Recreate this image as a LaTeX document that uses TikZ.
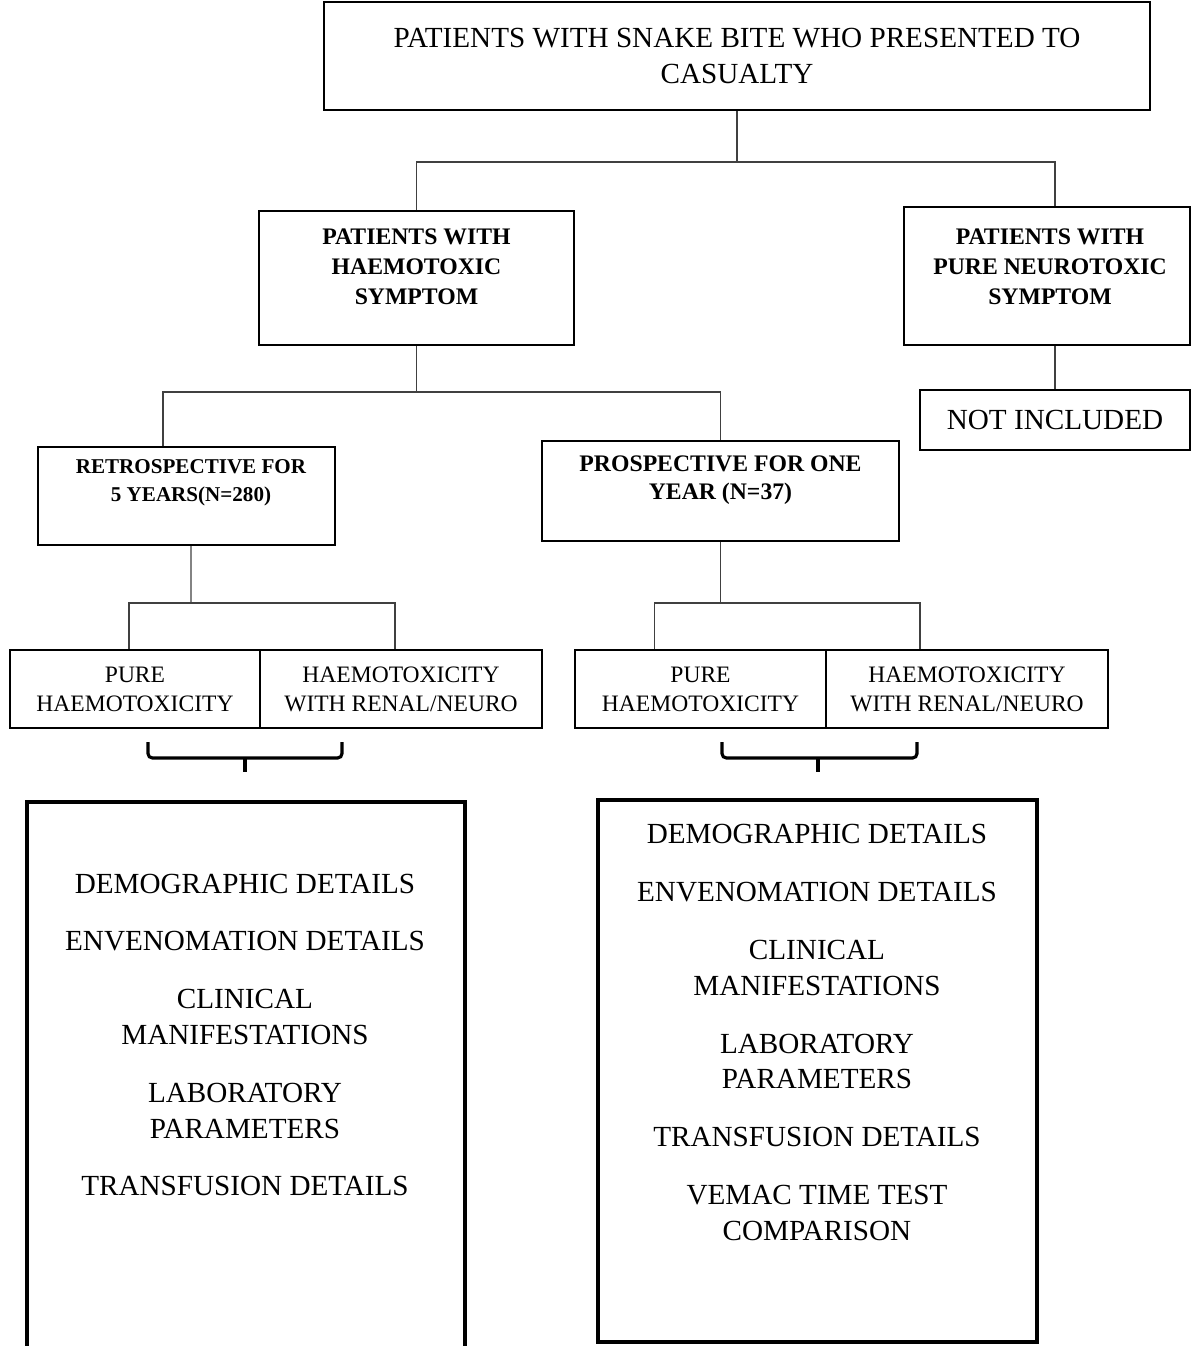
\documentclass[tikz,border=0pt]{standalone}
\usepackage{fontspec}
\setmainfont{Liberation Serif}

\newcommand{\bigtxt}{\fontsize{16.6}{20.4}\selectfont}
\newcommand{\subtxt}{\fontsize{13.4}{16.4}\selectfont}
\newcommand{\boldtxt}{\fontsize{13.5}{17}\selectfont\bfseries}
\newcommand{\retrotxt}{\fontsize{12}{15.9}\selectfont\bfseries}
\newcommand{\prosptxt}{\fontsize{13.5}{15.9}\selectfont\bfseries}

\begin{document}
\begin{tikzpicture}[x=0.02cm, y=-0.02cm,
  box/.style={draw, line width=1.4pt, inner sep=0pt},
  subbox/.style={draw, line width=1.1pt, inner sep=0pt, minimum height=1.56cm, align=center, font=\subtxt},
  conn/.style={draw=black!75, line width=0.6pt},
  brace/.style={line width=1.8pt, rounded corners=2.5pt},
  listbox/.style={line width=2.6pt}]
% Snake bite study flow chart
\useasboundingbox (0,0) rectangle (1192,1346);

\node[box, minimum width=16.52cm, minimum height=2.16cm, align=center, font=\bigtxt] (top) at (737,56)
  {PATIENTS WITH SNAKE BITE WHO PRESENTED TO\\CASUALTY};
\node[box, minimum width=6.3cm, minimum height=2.68cm,
  label={[font=\boldtxt, align=center, yshift=0.22cm]center:{PATIENTS WITH\\HAEMOTOXIC\\SYMPTOM}}] (haem) at (416.5,278) {};
\node[box, minimum width=5.72cm, minimum height=2.76cm,
  label={[font=\boldtxt, align=center, xshift=0.06cm, yshift=0.18cm]center:{PATIENTS WITH\\PURE NEUROTOXIC\\SYMPTOM}}] (neuro) at (1047,276) {};
\node[box, line width=1.1pt, minimum width=5.4cm, minimum height=1.2cm, font=\bigtxt] (notinc) at (1055,420) {NOT INCLUDED};
\node[box, minimum width=5.94cm, minimum height=1.96cm,
  label={[font=\retrotxt, align=center, xshift=0.09cm, yshift=0.26cm]center:{RETROSPECTIVE FOR\\5 YEARS(N=280)}}] (retro) at (186.5,496) {};
\node[box, minimum width=7.14cm, minimum height=2cm,
  label={[font=\prosptxt, align=center, yshift=0.22cm]center:{PROSPECTIVE FOR ONE\\YEAR (N=37)}}] (prosp) at (720.5,491) {};

\node[subbox, minimum width=5cm] (pureA) at (135,689) {PURE\\HAEMOTOXICITY};
\node[subbox, minimum width=5.64cm] (renalA) at (401,689) {HAEMOTOXICITY\\WITH RENAL/NEURO};
\node[subbox, minimum width=5.02cm] (pureB) at (700.5,689) {PURE\\HAEMOTOXICITY};
\node[subbox, minimum width=5.64cm] (renalB) at (967,689) {HAEMOTOXICITY\\WITH RENAL/NEURO};

\coordinate (bus1) at (736,162);
\coordinate (bus2) at (418,392);
\coordinate (bus3) at (191,603);
\coordinate (bus4) at (720,603);

\draw[conn] (top.south) -- (top.south |- bus1);
\draw[conn] (haem.north) |- (bus1) -| ([xshift=0.16cm]neuro.north);
\draw[conn] (haem.south) -- (haem.south |- bus2);
\draw[conn] ([xshift=-0.47cm]retro.north) |- (bus2) -| (prosp.north);
\draw[conn] (notinc.north) -- (notinc.north |- neuro.south);
\draw[conn] ([xshift=0.09cm]retro.south) -- (bus3);
\draw[conn] ([xshift=-0.12cm]pureA.north) |- (bus3) -| ([xshift=-0.12cm]renalA.north);
\draw[conn] (prosp.south) -- (prosp.south |- bus4);
\draw[conn] ([xshift=-0.92cm]pureB.north) |- (bus4) -| ([xshift=-0.94cm]renalB.north);

\draw[brace] (148,742) -- (148,758) -- (342,758) -- (342,742);
\draw[brace] (245,758) -- (245,772);
\draw[brace] (722,742) -- (722,758) -- (917,758) -- (917,742);
\draw[brace] (818,758) -- (818,772);

\draw[listbox] (27,1346) -- (27,802) -- (465,802) -- (465,1346);
\draw[listbox] (598,800) rectangle (1037,1342);

\node[align=center, font=\bigtxt] (leftlist) at (245,1035)
  {DEMOGRAPHIC DETAILS\\[12.5pt]ENVENOMATION DETAILS\\[12.5pt]CLINICAL\\MANIFESTATIONS\\[12.5pt]LABORATORY\\PARAMETERS\\[12.5pt]TRANSFUSION DETAILS};
\node[align=center, font=\bigtxt] (rightlist) at (817,1032.5)
  {DEMOGRAPHIC DETAILS\\[12.5pt]ENVENOMATION DETAILS\\[12.5pt]CLINICAL\\MANIFESTATIONS\\[12.5pt]LABORATORY\\PARAMETERS\\[12.5pt]TRANSFUSION DETAILS\\[12.5pt]VEMAC TIME TEST\\COMPARISON};
\end{tikzpicture}
\end{document}
